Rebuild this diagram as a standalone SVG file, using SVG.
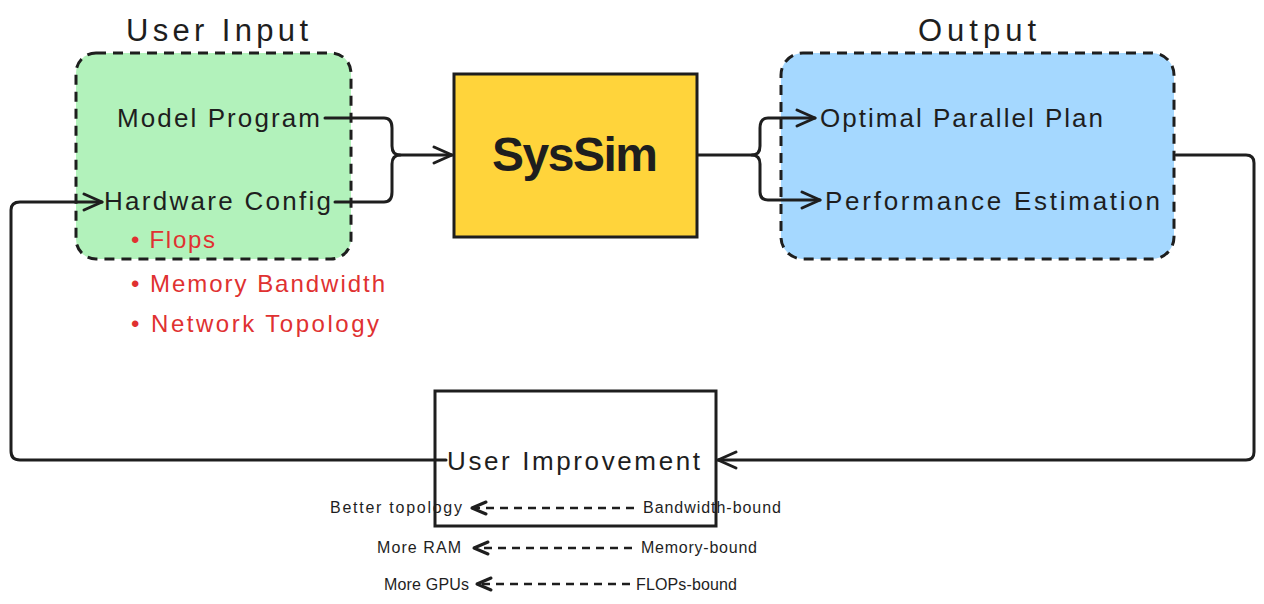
<svg xmlns="http://www.w3.org/2000/svg" width="1264" height="604" viewBox="0 0 1264 604">
<defs>
<marker id="arr" markerUnits="userSpaceOnUse" markerWidth="24" markerHeight="24" viewBox="0 0 24 24" refX="22" refY="12" orient="auto">
<path d="M4,4 L22,12 L4,20" fill="none" stroke="#1e1e1e" stroke-width="3" stroke-linecap="round" stroke-linejoin="round"/>
</marker>
<marker id="arrs" markerUnits="userSpaceOnUse" markerWidth="20" markerHeight="20" viewBox="0 0 20 20" refX="18" refY="10" orient="auto">
<path d="M4,4 L18,10 L4,16" fill="none" stroke="#1e1e1e" stroke-width="3" stroke-linecap="round" stroke-linejoin="round"/>
</marker>
</defs>
<style>
text{font-family:"Liberation Sans","DejaVu Sans",sans-serif;fill:#1e1e1e}
.title{font-size:31px}
.lbl{font-size:26px}
.red{font-size:24px;fill:#e03131}
.sm{font-size:16px}
.grp{stroke:#1e1e1e;stroke-width:3;stroke-dasharray:10 7}
.con{fill:none;stroke:#1e1e1e;stroke-width:3;stroke-linecap:round;stroke-linejoin:round}
.dash{fill:none;stroke:#1e1e1e;stroke-width:2.5;stroke-dasharray:8 6}
</style>
<rect width="1264" height="604" fill="#ffffff"/>

<g id="user-input">
<text class="title" x="217" y="41" text-anchor="middle" textLength="182">User Input</text>
<rect class="grp" x="76" y="53" width="275" height="206" rx="20" fill="#b2f2bb"/>
<text class="lbl" x="117" y="127" textLength="203">Model Program</text>
<text class="lbl" x="104" y="210" textLength="227">Hardware Config</text>
<text class="red" x="131" y="248" textLength="84">• Flops</text>
<text class="red" x="131" y="292" textLength="254">• Memory Bandwidth</text>
<text class="red" x="131" y="332" textLength="248">• Network Topology</text>
</g>

<g id="syssim">
<rect x="454" y="74" width="243" height="163" fill="#ffd43b" stroke="#1e1e1e" stroke-width="3"/>
<text x="575" y="171" text-anchor="middle" font-size="48" font-weight="bold" textLength="166">SysSim</text>
</g>

<g id="output">
<text class="title" x="977" y="41" text-anchor="middle" textLength="118">Output</text>
<rect class="grp" x="781" y="53" width="393" height="206" rx="22" fill="#a5d8ff"/>
<text class="lbl" x="820" y="127" textLength="283">Optimal Parallel Plan</text>
<text class="lbl" x="825" y="210" textLength="335">Performance Estimation</text>
</g>

<g id="user-improvement">
<rect x="435" y="391" width="281" height="135" fill="none" stroke="#1e1e1e" stroke-width="3"/>
<text class="lbl" x="447" y="470" textLength="253">User Improvement</text>
</g>

<g id="hints">
<text class="sm" x="330" y="513" textLength="132">Better topology</text>
<text class="sm" x="643" y="513" textLength="138">Bandwidth-bound</text>
<text class="sm" x="377" y="553" textLength="84">More RAM</text>
<text class="sm" x="641" y="553" textLength="116">Memory-bound</text>
<text class="sm" x="384" y="590" textLength="85">More GPUs</text>
<text class="sm" x="636" y="590" textLength="101">FLOPs-bound</text>
</g>

<g id="connectors">
<path class="con" d="M325,118 L384,118 Q392,118 392,128 L392,146 Q392,155 400,155 L452,155" marker-end="url(#arr)"/>
<path class="con" d="M335,202 L384,202 Q392,202 392,192 L392,164 Q392,155 400,155"/>
<path class="con" d="M698,155 L752,155 Q760,155 760,146 L760,128 Q760,118 768,118 L815,118" marker-end="url(#arr)"/>
<path class="con" d="M752,155 Q760,155 760,164 L760,192 Q760,200 768,200 L820,200" marker-end="url(#arr)"/>
<path class="con" d="M1176,155 L1246,155 Q1254,155 1254,163 L1254,452 Q1254,460 1246,460 L718,460" marker-end="url(#arr)"/>
<path class="con" d="M446,460 L20,460 Q11,460 11,451 L11,210 Q11,202 20,202 L102,202" marker-end="url(#arr)"/>
<path class="dash" d="M634,508 L472,508" marker-end="url(#arrs)"/>
<path class="dash" d="M632,548 L474,548" marker-end="url(#arrs)"/>
<path class="dash" d="M630,584 L477,584" marker-end="url(#arrs)"/>
</g>
</svg>
